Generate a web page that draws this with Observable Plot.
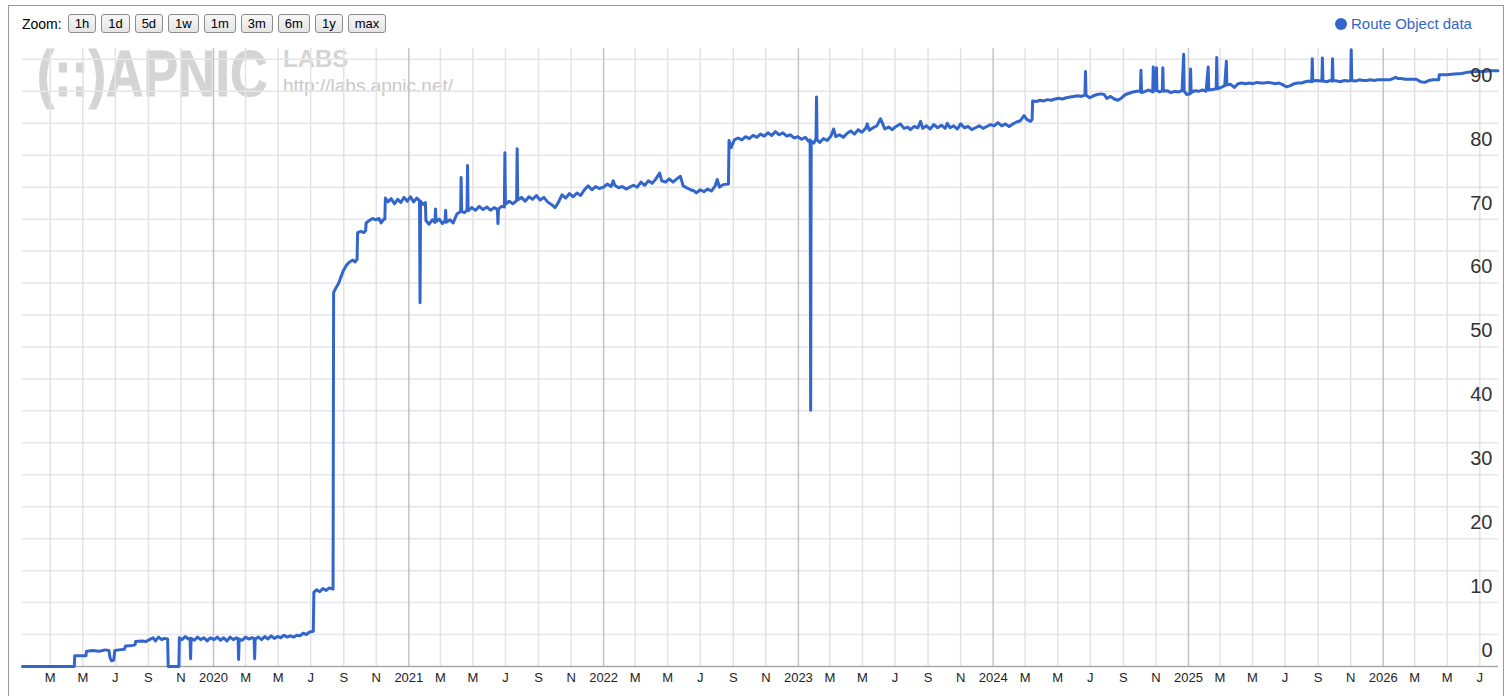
<!DOCTYPE html>
<html><head><meta charset="utf-8">
<script src="https://cdn.jsdelivr.net/npm/d3@7"></script>
<script src="https://cdn.jsdelivr.net/npm/@observablehq/plot@0.6"></script>
<style>
html,body{margin:0;padding:0;background:#fff;overflow:hidden;}
#wrap{position:relative;width:1511px;height:696px;font-family:Arial,"Liberation Sans",sans-serif;}
#frame{position:absolute;left:8px;top:5px;width:1496px;height:760px;border:1px solid #9a9a9a;box-sizing:border-box;}
#zoombar{position:absolute;left:22px;top:14px;height:19px;display:flex;align-items:center;font-size:14px;color:#000;}
#zoombar .lbl{margin-right:6px}
#zoombar button{font:13px Arial,"Liberation Sans",sans-serif;height:19px;padding:0 6px;margin:0 5px 0 0;border:1px solid #8c8c8c;border-radius:3px;background:linear-gradient(#f7f7f7,#e4e4e4);color:#000;line-height:17px;}
#legend{position:absolute;left:1335px;top:15px;display:flex;align-items:center;font-size:15px;color:#3366cc;}
#legend .dot{width:12px;height:12px;border-radius:50%;background:#3366cc;margin-right:4px;}
.wm{position:absolute;color:#d4d4d4;font-weight:bold;white-space:nowrap;}
#wm1{left:37px;top:42px;font-size:64px;line-height:64px;transform:scaleX(0.81);transform-origin:left top;-webkit-text-stroke:1px #d4d4d4;}
#wm2{left:283px;top:47px;font-size:24px;line-height:24px;}
#wm3{left:283px;top:76px;font-size:19px;line-height:19px;font-weight:normal;color:#c8c8c8;}
#chart{position:absolute;left:0;top:40px;}
</style>
</head><body>
<div id="wrap">
  <div id="frame"></div>
  <div class="wm" id="wm1">(::)APNIC</div>
  <div class="wm" id="wm2">LABS</div>
  <div class="wm" id="wm3">http://labs.apnic.net/</div>
  <div id="zoombar"><span class="lbl">Zoom:</span></div>
  <div id="legend"><span class="dot"></span><span id="legendText"></span></div>
  <div id="chart"></div>
</div>
<script>
// ---- data ----
const seriesName = "Route Object data";
const zoomLabels = ["1h","1d","5d","1w","1m","3m","6m","1y","max"];
const yTickValues = [0,10,20,30,40,50,60,70,80,90];
const monthLetters = ["", "", "M", "", "M", "", "J", "", "S", "", "N", ""];

const y2019 = [
["2019-01-08",0],["2019-04-15",0],["2019-04-16",1.7],["2019-05-07",1.7],["2019-05-08",2.4],["2019-05-20",2.5],["2019-06-01",2.4],["2019-06-12",2.6],["2019-06-19",2.5],["2019-06-21",1.4],["2019-06-24",0.9],["2019-06-28",1.0],["2019-06-30",2.5],["2019-07-08",2.6],["2019-07-18",2.7],["2019-07-20",3.2],["2019-08-02",3.3],["2019-08-07",3.4],["2019-08-08",3.9],["2019-08-20",4.0],["2019-08-27",3.9],["2019-09-03",4.2],["2019-09-10",4.5],["2019-09-14",4.0],["2019-09-20",4.6],["2019-09-26",4.2],["2019-10-01",4.4],["2019-10-07",4.3],["2019-10-08",0],["2019-10-28",0],["2019-10-29",4.5],["2019-11-03",4.2],["2019-11-09",4.7],["2019-11-15",4.3],["2019-11-18",4.4],["2019-11-19",1.2],["2019-11-20",4.4],["2019-11-26",4.1],["2019-12-02",4.6],["2019-12-08",4.2],["2019-12-14",4.5],["2019-12-20",4.0],["2019-12-26",4.5]
];
const y2020 = [
["2020-01-02",4.2],["2020-01-08",4.6],["2020-01-14",4.1],["2020-01-20",4.5],["2020-01-26",4.0],["2020-02-01",4.6],["2020-02-07",4.2],["2020-02-13",4.5],["2020-02-16",4.3],["2020-02-17",1.1],["2020-02-18",4.3],["2020-02-24",4.1],["2020-03-01",4.6],["2020-03-07",4.3],["2020-03-13",4.5],["2020-03-17",4.4],["2020-03-18",1.2],["2020-03-19",4.3],["2020-03-25",4.6],["2020-03-31",4.2],["2020-04-06",4.7],["2020-04-12",4.3],["2020-04-18",4.8],["2020-04-24",4.4],["2020-04-30",4.7],["2020-05-06",4.5],["2020-05-12",4.9],["2020-05-18",4.6],["2020-05-24",4.8],["2020-05-30",4.6],["2020-06-05",4.9],["2020-06-11",4.8],["2020-06-17",5.2],["2020-06-23",5.0],["2020-06-29",5.4],["2020-07-06",5.5],["2020-07-07",11.6],["2020-07-12",12.0],["2020-07-18",11.7],["2020-07-24",12.2],["2020-07-30",11.9],["2020-08-05",12.3],["2020-08-12",12.1],["2020-08-13",58.5],["2020-08-17",59.2],["2020-08-22",59.9],["2020-08-27",61.0],["2020-08-31",61.9],["2020-09-06",62.8],["2020-09-12",63.3],["2020-09-18",63.6],["2020-09-22",63.3],["2020-09-26",63.7],["2020-09-27",67.9],["2020-10-03",68.1],["2020-10-09",67.9],["2020-10-12",68.2],["2020-10-13",69.4],["2020-10-19",69.8],["2020-10-25",70.1],["2020-10-31",69.9],["2020-11-06",70.1],["2020-11-10",69.4],["2020-11-15",70.0],["2020-11-17",70.0],["2020-11-18",73.3],["2020-11-23",72.7],["2020-11-29",73.2],["2020-12-05",72.4],["2020-12-11",73.1],["2020-12-17",72.6],["2020-12-23",73.4],["2020-12-29",72.8]
];
const y2021 = [
["2021-01-04",73.5],["2021-01-10",72.7],["2021-01-16",73.3],["2021-01-21",72.9],["2021-01-22",56.9],["2021-01-23",72.8],["2021-01-28",72.3],["2021-02-01",72.6],["2021-02-02",69.8],["2021-02-08",69.2],["2021-02-14",69.9],["2021-02-19",69.5],["2021-02-20",71.6],["2021-02-21",69.6],["2021-02-27",70.0],["2021-03-05",69.3],["2021-03-10",69.8],["2021-03-11",71.4],["2021-03-12",69.5],["2021-03-19",69.9],["2021-03-25",69.4],["2021-04-01",70.8],["2021-04-08",71.2],["2021-04-09",76.5],["2021-04-10",71.2],["2021-04-15",71.0],["2021-04-20",71.4],["2021-04-21",78.4],["2021-04-22",71.3],["2021-04-29",71.8],["2021-05-06",71.4],["2021-05-13",72.0],["2021-05-20",71.5],["2021-05-27",71.9],["2021-06-03",71.4],["2021-06-10",71.8],["2021-06-16",71.5],["2021-06-17",69.3],["2021-06-18",71.6],["2021-06-24",72.0],["2021-06-29",71.9],["2021-06-30",80.4],["2021-07-01",72.3],["2021-07-08",72.8],["2021-07-15",72.4],["2021-07-22",72.9],["2021-07-23",81.0],["2021-07-24",73.0],["2021-07-31",73.4],["2021-08-07",72.8],["2021-08-14",73.5],["2021-08-21",73.1],["2021-08-28",73.7],["2021-09-04",73.0],["2021-09-11",73.4],["2021-09-18",72.7],["2021-09-25",72.3],["2021-10-02",71.8],["2021-10-08",72.6],["2021-10-15",73.8],["2021-10-22",73.3],["2021-10-29",74.0],["2021-11-05",73.5],["2021-11-12",74.1],["2021-11-19",73.7],["2021-11-26",74.6],["2021-12-03",75.2],["2021-12-10",74.6],["2021-12-17",75.1],["2021-12-24",74.8]
];
const y2022 = [
["2022-01-01",75.0],["2022-01-08",75.5],["2022-01-15",75.1],["2022-01-19",76.0],["2022-01-22",75.3],["2022-01-29",74.9],["2022-02-05",75.1],["2022-02-12",74.7],["2022-02-19",75.0],["2022-02-26",75.3],["2022-03-05",75.0],["2022-03-12",75.8],["2022-03-19",75.3],["2022-03-26",76.0],["2022-04-02",75.6],["2022-04-09",76.3],["2022-04-16",77.2],["2022-04-20",76.0],["2022-04-27",75.8],["2022-05-04",76.3],["2022-05-11",75.8],["2022-05-18",76.3],["2022-05-25",76.7],["2022-05-30",75.2],["2022-06-06",74.9],["2022-06-13",74.6],["2022-06-20",74.4],["2022-06-24",74.1],["2022-07-01",74.6],["2022-07-08",74.3],["2022-07-15",74.7],["2022-07-22",74.4],["2022-07-29",75.2],["2022-08-02",76.2],["2022-08-06",75.0],["2022-08-13",75.4],["2022-08-23",75.5],["2022-08-24",82.3],["2022-08-28",81.2],["2022-09-03",82.4],["2022-09-10",82.7],["2022-09-17",82.4],["2022-09-24",82.9],["2022-10-01",82.6],["2022-10-08",83.1],["2022-10-15",82.8],["2022-10-22",83.3],["2022-10-29",83.0],["2022-11-05",83.5],["2022-11-12",83.1],["2022-11-19",83.7],["2022-11-26",83.2],["2022-12-03",83.5],["2022-12-10",83.0],["2022-12-17",83.2],["2022-12-24",82.7],["2022-12-31",82.9]
];
const y2023 = [
["2023-01-07",82.5],["2023-01-14",82.8],["2023-01-20",82.2],["2023-01-23",82.4],["2023-01-24",40.1],["2023-01-25",82.2],["2023-01-30",81.9],["2023-02-03",82.6],["2023-02-04",89.1],["2023-02-05",82.4],["2023-02-10",82.0],["2023-02-17",82.6],["2023-02-24",82.3],["2023-03-03",83.0],["2023-03-08",84.1],["2023-03-12",82.9],["2023-03-19",83.2],["2023-03-26",82.8],["2023-04-02",83.4],["2023-04-09",83.8],["2023-04-16",83.3],["2023-04-23",84.0],["2023-04-30",83.6],["2023-05-07",84.2],["2023-05-10",84.9],["2023-05-14",83.9],["2023-05-21",84.3],["2023-05-28",84.6],["2023-06-04",85.7],["2023-06-08",84.9],["2023-06-12",84.1],["2023-06-19",84.4],["2023-06-26",84.0],["2023-07-03",84.5],["2023-07-11",84.9],["2023-07-18",84.2],["2023-07-25",84.4],["2023-07-30",84.0],["2023-08-06",84.5],["2023-08-13",84.3],["2023-08-18",85.3],["2023-08-22",84.2],["2023-08-29",84.6],["2023-09-05",84.1],["2023-09-12",84.8],["2023-09-19",84.3],["2023-09-26",84.7],["2023-10-03",84.2],["2023-10-07",85.0],["2023-10-12",84.3],["2023-10-19",84.6],["2023-10-26",84.1],["2023-11-01",84.9],["2023-11-08",84.3],["2023-11-15",84.5],["2023-11-22",84.0],["2023-11-29",84.3],["2023-12-06",84.6],["2023-12-13",84.2],["2023-12-20",84.5],["2023-12-27",84.8]
];
const y2024 = [
["2024-01-03",84.6],["2024-01-10",85.1],["2024-01-17",84.6],["2024-01-24",84.9],["2024-01-31",84.5],["2024-02-07",84.9],["2024-02-14",85.2],["2024-02-21",85.4],["2024-02-28",86.2],["2024-03-04",85.6],["2024-03-11",85.3],["2024-03-14",85.6],["2024-03-15",88.5],["2024-03-22",88.4],["2024-03-29",88.6],["2024-04-05",88.5],["2024-04-12",88.7],["2024-04-19",88.6],["2024-04-26",88.8],["2024-05-03",88.9],["2024-05-10",88.8],["2024-05-17",89.0],["2024-05-24",89.1],["2024-05-31",89.2],["2024-06-07",89.3],["2024-06-14",89.2],["2024-06-21",89.4],["2024-06-22",93.1],["2024-06-23",89.4],["2024-06-30",89.0],["2024-07-07",89.3],["2024-07-14",89.5],["2024-07-21",89.6],["2024-07-27",89.5],["2024-08-01",88.9],["2024-08-08",89.2],["2024-08-15",88.8],["2024-08-22",88.6],["2024-08-29",89.0],["2024-09-05",89.5],["2024-09-12",89.7],["2024-09-19",89.9],["2024-09-26",90.0],["2024-10-03",90.0],["2024-10-04",93.3],["2024-10-05",89.8],["2024-10-12",90.0],["2024-10-19",90.2],["2024-10-26",89.9],["2024-10-27",93.8],["2024-10-28",90.0],["2024-11-01",90.2],["2024-11-02",93.7],["2024-11-03",90.1],["2024-11-08",89.9],["2024-11-13",90.1],["2024-11-14",93.7],["2024-11-15",90.0],["2024-11-22",90.1],["2024-11-29",89.8],["2024-12-06",90.0],["2024-12-13",89.9],["2024-12-20",90.1],["2024-12-23",95.8],["2024-12-24",90.0],["2024-12-29",89.5]
];
const y2025 = [
["2025-01-04",89.6],["2025-01-05",93.5],["2025-01-06",89.8],["2025-01-13",90.1],["2025-01-20",90.0],["2025-01-27",90.2],["2025-02-03",90.0],["2025-02-07",93.8],["2025-02-08",90.2],["2025-02-15",90.3],["2025-02-22",90.4],["2025-02-23",95.3],["2025-02-24",90.4],["2025-03-03",90.6],["2025-03-10",90.9],["2025-03-13",94.7],["2025-03-14",91.0],["2025-03-21",91.1],["2025-03-28",90.6],["2025-04-04",91.2],["2025-04-11",91.3],["2025-04-18",91.2],["2025-04-25",91.3],["2025-05-02",91.2],["2025-05-09",91.4],["2025-05-16",91.3],["2025-05-23",91.3],["2025-05-30",91.4],["2025-06-06",91.3],["2025-06-13",91.2],["2025-06-20",91.3],["2025-06-27",91.0],["2025-07-04",90.7],["2025-07-11",90.9],["2025-07-18",91.2],["2025-07-25",91.3],["2025-08-01",91.3],["2025-08-08",91.5],["2025-08-15",91.6],["2025-08-20",91.5],["2025-08-21",95.1],["2025-08-22",91.6],["2025-08-29",91.7],["2025-09-05",91.6],["2025-09-08",91.6],["2025-09-09",95.2],["2025-09-10",91.6],["2025-09-17",91.5],["2025-09-24",91.7],["2025-09-27",91.6],["2025-09-28",95.1],["2025-09-29",91.7],["2025-10-06",91.6],["2025-10-13",91.5],["2025-10-20",91.7],["2025-10-27",91.6],["2025-11-01",91.7],["2025-11-02",96.5],["2025-11-03",91.7],["2025-11-10",91.6],["2025-11-17",91.8],["2025-11-24",91.7],["2025-12-01",91.7],["2025-12-08",91.8],["2025-12-15",91.7],["2025-12-22",91.8],["2025-12-29",91.8]
];
const y2026 = [
["2026-01-05",91.8],["2026-01-12",91.8],["2026-01-20",92.0],["2026-01-24",92.2],["2026-01-28",92.0],["2026-02-04",92.0],["2026-02-11",91.9],["2026-02-18",91.9],["2026-02-25",91.9],["2026-03-04",91.9],["2026-03-12",91.5],["2026-03-20",91.4],["2026-03-28",91.7],["2026-04-04",91.8],["2026-04-15",91.8],["2026-04-16",92.6],["2026-04-30",92.6],["2026-05-14",92.7],["2026-05-28",92.8],["2026-06-09",93.0],["2026-06-23",93.1],["2026-07-07",93.1],["2026-07-21",93.2],["2026-08-04",93.2]
];
const dateStart = "2019-01-08";
const dateEnd = "2026-08-05";

// ---- header (zoom bar + legend) ----
const zb = document.getElementById("zoombar");
for (const z of zoomLabels) { const b = document.createElement("button"); b.textContent = z; zb.appendChild(b); }
document.getElementById("legendText").textContent = seriesName;

// ---- chart ----
const data = [...y2019, ...y2020, ...y2021, ...y2022, ...y2023, ...y2024, ...y2025, ...y2026]
  .map(([d, v]) => ({date: new Date(d), value: v}));
const xDomain = [new Date(dateStart), new Date(dateEnd)];
const monthTicks = d3.utcMonth.every(2).range(xDomain[0], xDomain[1]);
const yearTicks = monthTicks.filter(d => d.getUTCMonth() === 0);
const midTicks = monthTicks.filter(d => d.getUTCMonth() !== 0);
const yGrid = d3.range(5, 96, 5);
const tickText = d => d.getUTCMonth() === 0 ? String(d.getUTCFullYear()) : monthLetters[d.getUTCMonth()];

const chart = Plot.plot({
  width: 1511, height: 656,
  marginTop: 8, marginBottom: 30, marginLeft: 22, marginRight: 13,
  x: {type: "utc", domain: xDomain, axis: null},
  y: {domain: [0, 96.7], axis: null},
  style: {background: "transparent", fontFamily: "Arial, 'Liberation Sans', sans-serif", overflow: "visible"},
  marks: [
    Plot.ruleY(yGrid, {stroke: "#e5e5ee", strokeWidth: 1.5}),
    Plot.ruleX(midTicks, {stroke: "#e3e3e3", strokeWidth: 1.5}),
    Plot.ruleX(yearTicks, {stroke: "#c4c4c4", strokeWidth: 1.5}),
    Plot.ruleY([0], {stroke: "#a8a8a8", strokeWidth: 1.5}),
    Plot.line(data, {x: "date", y: "value", stroke: "#3366cc", strokeWidth: 3, strokeLinejoin: "round"}),
    Plot.text(yTickValues, {y: d => d, text: d => String(d), frameAnchor: "right", textAnchor: "end", dx: -6, dy: -16, fontSize: 20, fill: "#333"}),
    Plot.text(monthTicks, {x: d => d, text: tickText, frameAnchor: "bottom", dy: 15, fontSize: 13, fill: "#222"})
  ]
});
document.getElementById("chart").appendChild(chart);
</script>
</body></html>
